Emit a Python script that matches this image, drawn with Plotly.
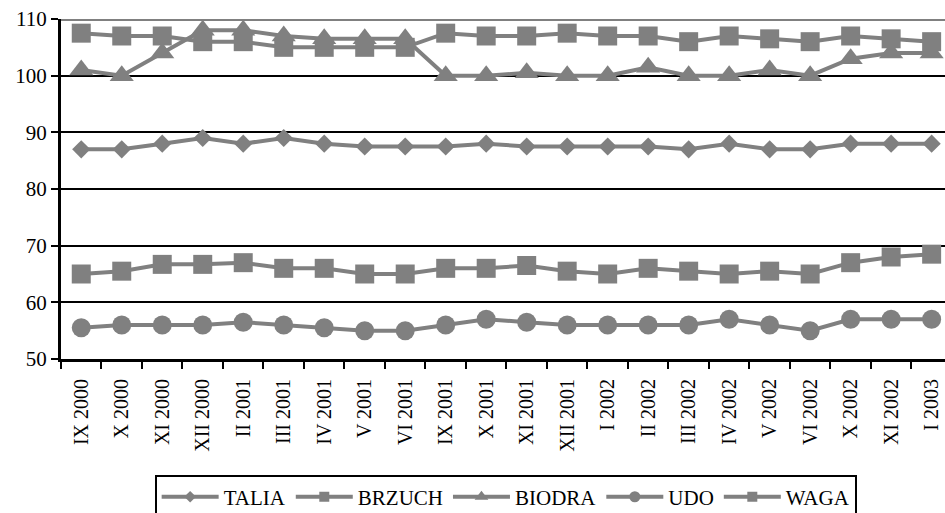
import plotly.graph_objects as go

# Measurement dates (Roman-numeral months)
months = ["IX 2000", "X 2000", "XI 2000", "XII 2000", "II 2001", "III 2001",
          "IV 2001", "V 2001", "VI 2001", "IX 2001", "X 2001", "XI 2001",
          "XII 2001", "I 2002", "II 2002", "III 2002", "IV 2002", "V 2002",
          "VI 2002", "X 2002", "XI 2002", "I 2003"]

talia = [87, 87, 88, 89, 88, 89, 88, 87.5, 87.5, 87.5, 88, 87.5,
         87.5, 87.5, 87.5, 87, 88, 87, 87, 88, 88, 88]
brzuch = [107.5, 107, 107, 106, 106, 105, 105, 105, 105, 107.5, 107, 107,
          107.5, 107, 107, 106, 107, 106.5, 106, 107, 106.5, 106]
biodra = [101, 100, 104, 108, 108, 107, 106.5, 106.5, 106.5, 100, 100, 100.5,
          100, 100, 101.5, 100, 100, 101, 100, 103, 104, 104]
udo = [55.5, 56, 56, 56, 56.5, 56, 55.5, 55, 55, 56, 57, 56.5,
       56, 56, 56, 56, 57, 56, 55, 57, 57, 57]
waga = [65, 65.5, 66.7, 66.7, 67, 66, 66, 65, 65, 66, 66, 66.5,
        65.5, 65, 66, 65.5, 65, 65.5, 65, 67, 68, 68.5]

series = [
    ("TALIA", talia, "diamond", 14, 9),
    ("BRZUCH", brzuch, "square", 19, 10),
    ("BIODRA", biodra, "triangle-up", 21, 12),
    ("UDO", udo, "circle", 19, 11),
    ("WAGA", waga, "square", 19, 10),
]

GRAY = "#808080"
FONT = "Liberation Serif, Times New Roman, serif"

fig = go.Figure()
for name, vals, sym, size, _ in series:
    fig.add_trace(go.Scatter(
        x=months, y=vals, mode="lines+markers", name=name, showlegend=False,
        line=dict(color=GRAY, width=4),
        marker=dict(symbol=sym, size=size, color=GRAY),
    ))
# Legend entries with smaller key symbols
for name, _, sym, _, lsize in series:
    fig.add_trace(go.Scatter(
        x=[None], y=[None], mode="lines+markers", name=name,
        line=dict(color=GRAY, width=4),
        marker=dict(symbol=sym, size=lsize, color=GRAY),
    ))

# Plot-area top border
fig.add_shape(type="line", xref="paper", yref="y", x0=0, x1=1, y0=110, y1=110,
              line=dict(color=GRAY, width=4), layer="above")

fig.update_layout(
    width=945, height=513,
    margin=dict(l=61, r=0, t=19, b=154, autoexpand=False),
    paper_bgcolor="white", plot_bgcolor="white",
    font=dict(family=FONT, size=20, color="black"),
    xaxis=dict(
        type="category", range=[-0.5, 21.33], automargin=False,
        tickson="boundaries", ticks="outside", ticklen=7, tickwidth=2,
        tickcolor="black", tickangle=-90, ticklabelstandoff=9,
        showline=True, linecolor="black", linewidth=3,
        showgrid=False, tickfont=dict(family=FONT, size=20),
    ),
    yaxis=dict(
        range=[50, 110], dtick=10, ticks="outside", ticklen=7, tickwidth=2,
        tickcolor="black", showline=True, linecolor="black", linewidth=3,
        showgrid=True, gridcolor="black", gridwidth=2, zeroline=False,
        automargin=False, tickfont=dict(family=FONT, size=21),
    ),
    legend=dict(
        orientation="h", x=0.503, xanchor="center", y=-0.34, yanchor="top",
        bordercolor="black", borderwidth=2, bgcolor="white",
        font=dict(family=FONT, size=21, color="black"),
        itemwidth=57, tracegroupgap=0,
    ),
)

fig.write_html("out.html")
